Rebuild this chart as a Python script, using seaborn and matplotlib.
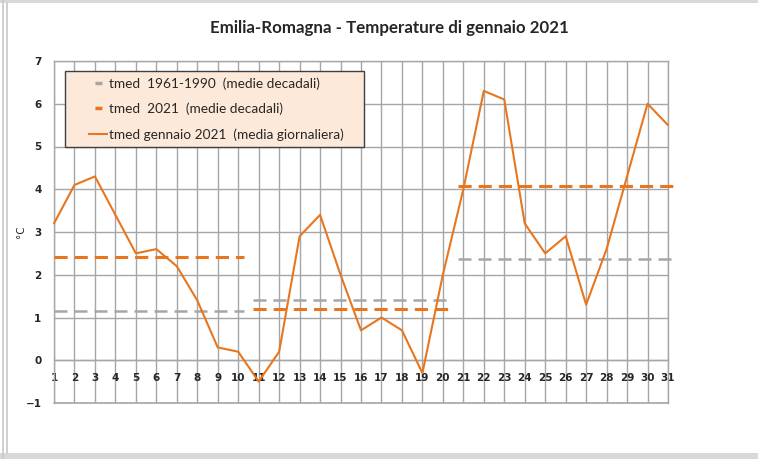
import numpy as np
import pandas as pd
import seaborn as sns
import matplotlib.pyplot as plt
from matplotlib.lines import Line2D
from matplotlib.patches import Rectangle

# daily mean temperature, January 2021
days = list(range(1, 32))
tmed_2021 = [3.2, 4.1, 4.3, 3.4, 2.5, 2.6, 2.2, 1.4, 0.3, 0.2,
             -0.5, 0.2, 2.9, 3.4, 2.0, 0.7, 1.0, 0.7, -0.3, 2.0,
             4.0, 6.3, 6.1, 3.2, 2.5, 2.9, 1.3, 2.6, 4.3, 6.0, 5.5]

# decadal means (first day, last day of each decade)
decade_start = [1, 11, 21]
decade_end = [10, 20, 31]
tmed_clim = [1.15, 1.40, 2.38]      # 1961-1990
tmed_dec_2021 = [2.42, 1.19, 4.08]  # 2021

orange = '#E8761E'
gray = '#A6A6A6'
grid_col = '#A6A6A6'

sns.set_style('white')
plt.rcParams['font.family'] = ['Lato', 'DejaVu Sans']

fig = plt.figure(figsize=(7.58, 4.59), dpi=100)
ax = fig.add_axes([54 / 758, 1 - 403 / 459, 614 / 758, 342 / 459])

df = pd.DataFrame({'day': days, 'tmed': tmed_2021})

# decadal dashed lines
for s, e, c, v in zip(decade_start, decade_end, tmed_clim, tmed_dec_2021):
    x0 = s if s == 1 else s - 0.27
    x1 = e + 0.27
    ax.hlines(c, x0, x1, colors=gray, linewidth=1.8,
              linestyles=(0, (5.2, 2.8)), clip_on=False, zorder=3)
    ax.hlines(v, x0, x1, colors=orange, linewidth=2.2,
              linestyles=(0, (4.3, 2.3)), clip_on=False, zorder=3)

sns.lineplot(data=df, x='day', y='tmed', color=orange, linewidth=1.5,
             ax=ax, zorder=4, clip_on=False)

ax.set_xlim(1, 31)
ax.set_ylim(-1, 7)
ax.set_xticks(days)
ax.set_yticks(range(-1, 8))
ax.grid(True, color=grid_col, linewidth=1)
ax.set_axisbelow(True)

ax.spines['bottom'].set_position(('data', 0))
for sp in ax.spines.values():
    sp.set_color(grid_col)
    sp.set_linewidth(1)
ax.axhline(-1, color=grid_col, linewidth=1.2, clip_on=False)

ax.tick_params(axis='x', length=0, pad=9, labelsize=7.5)
ax.tick_params(axis='y', length=0, pad=9, labelsize=7.5)
for lab in ax.get_xticklabels() + ax.get_yticklabels():
    lab.set_fontweight('bold')
    lab.set_family('DejaVu Sans')

ax.set_xlabel('')
ax.set_ylabel('°C', fontsize=7.5, labelpad=0, family='DejaVu Sans')

ax.set_title('Emilia-Romagna - Temperature di gennaio 2021',
             fontsize=12.2, fontweight='bold', pad=20, x=0.547)

# legend handles: the visible stroke sits at the right end of a longer handle
handles = [
    Line2D([], [], color=gray, linewidth=2.5, linestyle=(15.1, (2.0, 20))),
    Line2D([], [], color=orange, linewidth=2.5, linestyle=(15.1, (2.0, 20))),
    Line2D([], [], color=orange, linewidth=1.5, linestyle=(21.9, (10.1, 20))),
]
labels = ['tmed  1961-1990  (medie decadali)',
          'tmed  2021  (medie decadali)',
          'tmed gennaio 2021  (media giornaliera)    ']
leg = ax.legend(handles, labels, loc='upper left', bbox_to_anchor=(0.018, 0.971),
                borderaxespad=0, fontsize=9.8, handlelength=2.7, handletextpad=0.1,
                labelspacing=0.95, borderpad=0.45, fancybox=False, framealpha=1,
                facecolor='#FDE9D9', edgecolor='#404040')
leg.get_frame().set_linewidth(1)
leg.set_zorder(6)

# outer frame of the original chart window
fig.add_artist(Rectangle((0, 1 - 3 / 459), 1, 3 / 459, transform=fig.transFigure,
                         color='#D9D9D9', lw=0))
fig.add_artist(Rectangle((0, 0), 1, 6 / 459, transform=fig.transFigure,
                         color='#D9D9D9', lw=0))
fig.add_artist(Line2D([3 / 758, 3 / 758], [0, 1], transform=fig.transFigure,
                      color='#C8C8C8', lw=1.2))
fig.add_artist(Line2D([7 / 758, 7 / 758], [6 / 459, 1 - 3 / 459],
                      transform=fig.transFigure, color='#C8C8C8', lw=1.2))

fig.savefig('out.png', dpi=100)
